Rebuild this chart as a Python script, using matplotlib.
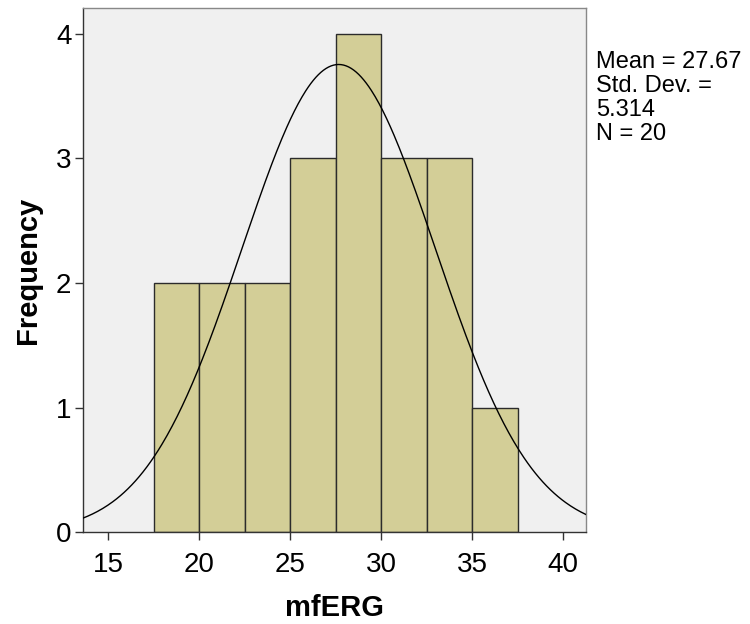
import numpy as np
import matplotlib
matplotlib.use("Agg")
import matplotlib.pyplot as plt

plt.rcParams['font.family'] = ['Liberation Sans', 'DejaVu Sans']

bin_edges = [17.5, 20.0, 22.5, 25.0, 27.5, 30.0, 32.5, 35.0, 37.5]
counts = [2, 2, 2, 3, 4, 3, 3, 1]
mean = 27.67
sd = 5.314
n = 20
x_ticks = [15, 20, 25, 30, 35, 40]
y_ticks = [0, 1, 2, 3, 4]

fig = plt.figure(figsize=(7.5, 6.24), dpi=100)
ax = fig.add_axes([0.110, 0.147, 0.671, 0.840])
ax.set_facecolor('#F0F0F0')

widths = np.diff(bin_edges)
ax.bar(bin_edges[:-1], counts, width=widths, align='edge',
       color='#D3CE97', edgecolor='#2b2b2b', linewidth=1.0, zorder=2)

xlim = (13.59, 41.25)
xs = np.linspace(xlim[0], xlim[1], 400)
bw = widths[0]
ys = n * bw / (sd * np.sqrt(2 * np.pi)) * np.exp(-0.5 * ((xs - mean) / sd) ** 2)
ax.plot(xs, ys, color='black', linewidth=1.0, zorder=3)

ax.set_xlim(*xlim)
ax.set_ylim(0, 4.206)
ax.set_xticks(x_ticks)
ax.set_yticks(y_ticks)
ax.tick_params(axis='both', direction='out', length=6, width=1, colors='#333333',
               labelsize=20, labelcolor='black', pad=2)
ax.tick_params(axis='x', pad=8)

for s in ['top', 'right']:
    ax.spines[s].set_color('#888888')
for s in ['left', 'bottom']:
    ax.spines[s].set_color('#333333')
for s in ax.spines.values():
    s.set_linewidth(1.0)

ax.set_xlabel('mfERG', fontsize=21, fontweight='bold', labelpad=12)
ax.set_ylabel('Frequency', fontsize=21, fontweight='bold', labelpad=10)

fig.text(0.795, 0.918, f'Mean = {mean:.2f}\nStd. Dev. =\n{sd:.3f}\nN = {n}',
         fontsize=17, va='top', ha='left', linespacing=1.12)

fig.savefig('out.png', dpi=100, facecolor='white')
